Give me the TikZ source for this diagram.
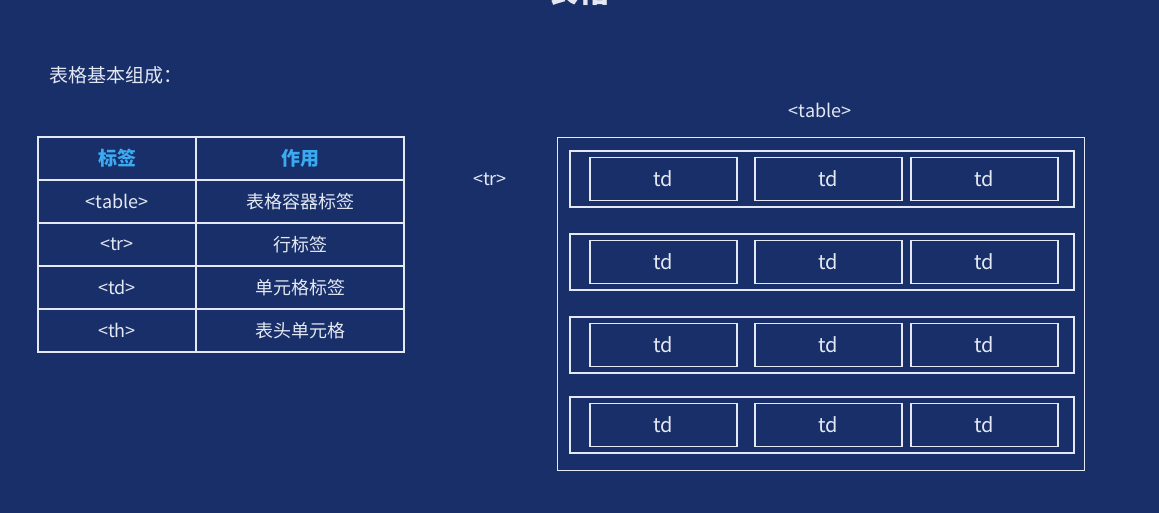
\documentclass[tikz,border=0pt]{standalone}
\usepackage{fontspec}
\setmainfont{Noto Sans CJK SC}
\usepackage{xcolor}
\usetikzlibrary{positioning}
\definecolor{bgnavy}{RGB}{24,47,106}
\definecolor{headblue}{RGB}{60,170,240}
\definecolor{lightline}{RGB}{228,232,242}

\begin{document}
\begin{tikzpicture}[
    x=1pt, y=-1pt,
    font=\fontsize{18}{20}\selectfont, text=lightline,
    cell/.style={draw=lightline, line width=1.3pt, inner sep=0pt, outer sep=0pt,
                 minimum height=43pt},
    tagcell/.style={cell, minimum width=158pt},
    usecell/.style={cell, minimum width=208pt},
    head/.style={text=headblue, font=\fontsize{19}{21}\selectfont\bfseries},
    rowbox/.style={draw=lightline, line width=1.3pt, inner sep=0pt,
                   minimum width=504pt, minimum height=56pt},
    tdbox/.style={draw=lightline, line width=1.3pt, inner sep=0pt,
                  minimum width=147pt, minimum height=43pt,
                  font=\fontsize{20}{22}\selectfont}
  ]
    \fill[bgnavy] (0,0) rectangle (1159,513);
    \useasboundingbox (0,0) rectangle (1159,513);

    \node[font=\fontsize{32}{34}\selectfont\bfseries] (title) at (578,-10) {表格};
    \node[anchor=west, font=\fontsize{19}{21}\selectfont] (intro) at (46,75) {表格基本组成：};

    % left: tag table
    \node[tagcell, head, anchor=north west] (h1) at (38,137) {标签};
    \node[usecell, head, right=0pt of h1] (h2) {作用};
    \node[tagcell, below=0pt of h1] (t1) {<table>};
    \node[usecell, right=0pt of t1]    (u1) {表格容器标签};
    \node[tagcell, below=0pt of t1] (t2) {<tr>};
    \node[usecell, right=0pt of t2]    (u2) {行标签};
    \node[tagcell, below=0pt of t2] (t3) {<td>};
    \node[usecell, right=0pt of t3]    (u3) {单元格标签};
    \node[tagcell, below=0pt of t3] (t4) {<th>};
    \node[usecell, right=0pt of t4]    (u4) {表头单元格};

    % right: table / tr / td sketch
    \node (tbllabel) at (820,110) {<table>};
    \node (trlabel)  at (490,179) {<tr>};
    \node[draw=lightline, line width=1.3pt, inner sep=0pt, minimum width=527pt,
          minimum height=333pt, anchor=north west] (tbl) at (557,137) {};
    \foreach \r/\y in {1/179, 2/262, 3/345, 4/425} {
      \node[rowbox] (row\r) at (822,\y) {};
      \foreach \c/\x in {1/663.5, 2/828.5, 3/984.5}
        \node[tdbox] (td\r\c) at (\x,\y) {td};
    }
  \end{tikzpicture}
\end{document}
